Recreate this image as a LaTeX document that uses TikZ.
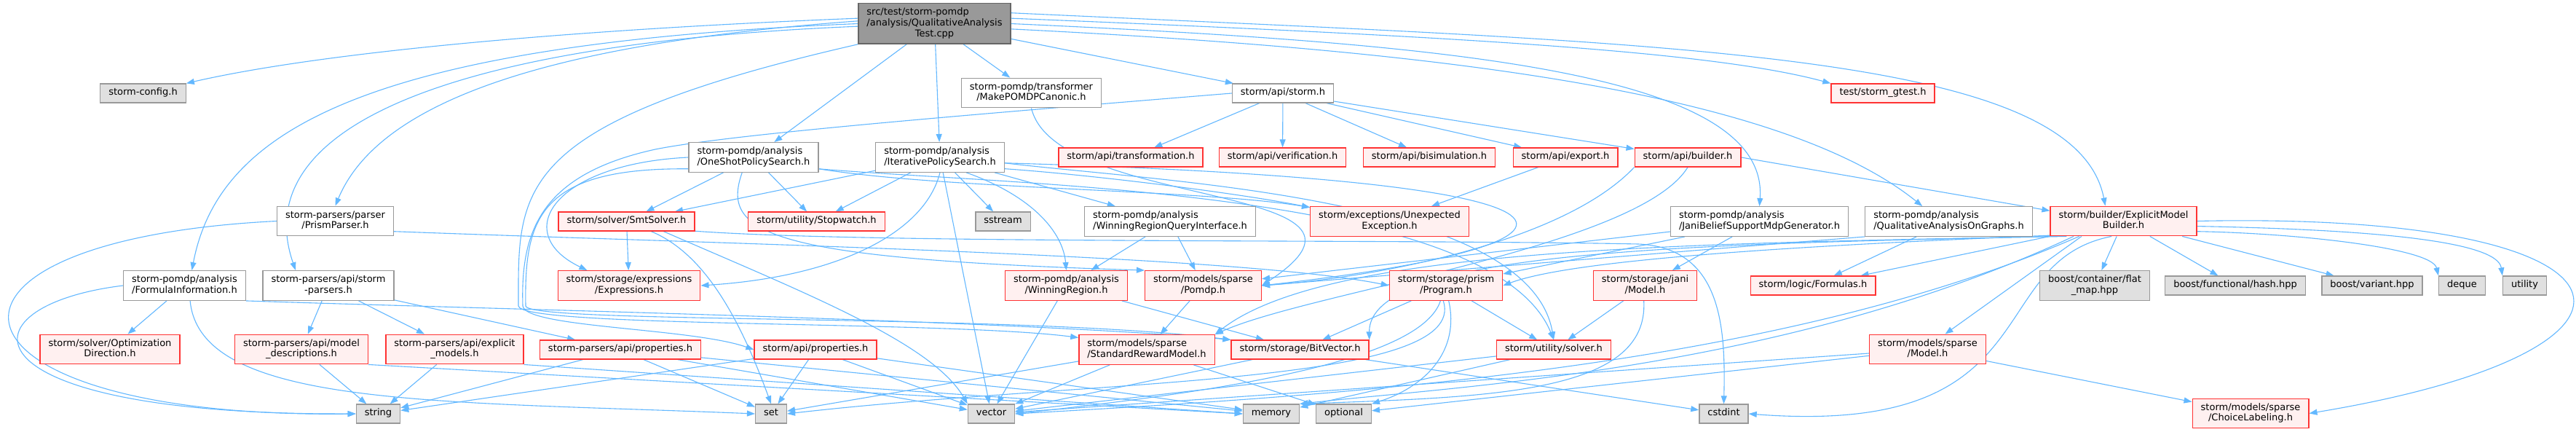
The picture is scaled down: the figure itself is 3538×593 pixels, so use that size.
\documentclass[tikz,border=0pt]{standalone}
\usepackage{fontspec}
\setmainfont{DejaVu Sans}
\usepackage{tikz}
\usetikzlibrary{arrows.meta}

\definecolor{edgeblue}{HTML}{63B8FF}
\definecolor{redfill}{HTML}{FFF0F0}
\definecolor{redline}{HTML}{FF3333}
\definecolor{sysfill}{HTML}{E0E0E0}
\definecolor{grayline}{HTML}{999999}
\definecolor{mainfill}{HTML}{999999}
\definecolor{mainline}{HTML}{666666}

\newcommand{\lblone}[1]{\begin{tabular}{@{}c@{}}#1\end{tabular}}
\newcommand{\lbltwo}[2]{\begin{tabular}{@{}l@{}}#1\\\multicolumn{1}{@{}c@{}}{#2}\end{tabular}}
\newcommand{\lblthree}[3]{\begin{tabular}{@{}l@{}}#1\\#2\\\multicolumn{1}{@{}c@{}}{#3}\end{tabular}}

\pgfdeclarelayer{paper}
\pgfdeclarelayer{edges}
\pgfsetlayers{paper,edges,main}

\begin{document}
\begin{tikzpicture}[x=1pt, y=-1pt,
    hdr/.style={rectangle, draw=grayline, fill=white, line width=1.3pt, inner xsep=11.5pt, inner ysep=5.6pt, font=\fontsize{13}{14.7}\selectfont},
    redhdr/.style={hdr, draw=redline, fill=redfill},
    syshdr/.style={hdr, fill=sysfill},
    mainhdr/.style={hdr, draw=mainline, fill=mainfill},
    inc/.style={draw=edgeblue, line width=1.1pt, -{Triangle[length=11pt, width=8pt]}}]

    \begin{pgfonlayer}{paper}
    \fill[white] (0,0) rectangle (3538,593);
    \end{pgfonlayer}
    \useasboundingbox (0,0) rectangle (3538,593);

    % Test file
    \node[mainhdr] (test) at (1283.5,32.5) {\lblthree{src/test/storm-pomdp}{/analysis/QualitativeAnalysis}{Test.cpp}};

    % First level
    \node[syshdr] (config) at (196.5,128) {\lblone{storm-config.h}};
    \node[hdr] (canonic) at (1416.5,127.5) {\lbltwo{storm-pomdp/transformer}{/MakePOMDPCanonic.h}};
    \node[hdr] (stormapi) at (1762,128) {\lblone{storm/api/storm.h}};
    \node[redhdr] (gtest) at (2586,128) {\lblone{test/storm\_gtest.h}};

    % Policy searches and api headers
    \node[hdr] (oneshot) at (1035,216) {\lbltwo{storm-pomdp/analysis}{/OneShotPolicySearch.h}};
    \node[hdr] (iterative) at (1291,216) {\lbltwo{storm-pomdp/analysis}{/IterativePolicySearch.h}};
    \node[redhdr] (transformation) at (1553,216) {\lblone{storm/api/transformation.h}};
    \node[redhdr] (verification) at (1761.5,216) {\lblone{storm/api/verification.h}};
    \node[redhdr] (bisimulation) at (1963,216) {\lblone{storm/api/bisimulation.h}};
    \node[redhdr] (export) at (2150,216) {\lblone{storm/api/export.h}};
    \node[redhdr] (builder) at (2318,216) {\lblone{storm/api/builder.h}};

    % Middle row
    \node[hdr] (prismparser) at (460.5,303.5) {\lbltwo{storm-parsers/parser}{/PrismParser.h}};
    \node[redhdr] (smtsolver) at (860.5,304) {\lblone{storm/solver/SmtSolver.h}};
    \node[redhdr] (stopwatch) at (1121.5,304) {\lblone{storm/utility/Stopwatch.h}};
    \node[syshdr] (sstream) at (1377.5,304) {\lblone{sstream}};
    \node[hdr] (queryif) at (1607,304) {\lbltwo{storm-pomdp/analysis}{/WinningRegionQueryInterface.h}};
    \node[redhdr] (unexpected) at (1908.5,304) {\lbltwo{storm/exceptions/Unexpected}{Exception.h}};
    \node[hdr] (janibelief) at (2416.5,304) {\lbltwo{storm-pomdp/analysis}{/JaniBeliefSupportMdpGenerator.h}};
    \node[hdr] (onGraphs) at (2676.5,304) {\lbltwo{storm-pomdp/analysis}{/QualitativeAnalysisOnGraphs.h}};
    \node[redhdr] (modelbuilder) at (2916.5,303.5) {\lbltwo{storm/builder/ExplicitModel}{Builder.h}};

    \node[hdr] (formulainfo) at (253.5,392) {\lbltwo{storm-pomdp/analysis}{/FormulaInformation.h}};
    \node[hdr] (stormparsers) at (451,392) {\lbltwo{storm-parsers/api/storm}{-parsers.h}};
    \node[redhdr] (expressions) at (864,392) {\lbltwo{storm/storage/expressions}{/Expressions.h}};
    \node[redhdr] (winregion) at (1464.5,392) {\lbltwo{storm-pomdp/analysis}{/WinningRegion.h}};
    \node[redhdr] (pomdp) at (1652.5,392) {\lbltwo{storm/models/sparse}{/Pomdp.h}};
    \node[redhdr] (program) at (1986,392) {\lbltwo{storm/storage/prism}{/Program.h}};
    \node[redhdr] (janimodel) at (2259.5,392) {\lbltwo{storm/storage/jani}{/Model.h}};
    \node[redhdr] (formulas) at (2490,392) {\lblone{storm/logic/Formulas.h}};
    \node[syshdr] (flatmap) at (2877,392) {\lbltwo{boost/container/flat}{\_map.hpp}};
    \node[syshdr] (hash) at (3070,392) {\lblone{boost/functional/hash.hpp}};
    \node[syshdr] (variant) at (3258,392) {\lblone{boost/variant.hpp}};
    \node[syshdr] (deque) at (3381.5,392) {\lblone{deque}};
    \node[syshdr] (utility) at (3467.5,392) {\lblone{utility}};

    % Lower row
    \node[redhdr] (optdir) at (151,479.5) {\lbltwo{storm/solver/Optimization}{Direction.h}};
    \node[redhdr] (modeldesc) at (414,479.5) {\lbltwo{storm-parsers/api/model}{\_descriptions.h}};
    \node[redhdr] (explicitmodels) at (624.5,479.5) {\lbltwo{storm-parsers/api/explicit}{\_models.h}};
    \node[redhdr] (parsprops) at (852,480) {\lblone{storm-parsers/api/properties.h}};
    \node[redhdr] (apiprops) at (1120,480) {\lblone{storm/api/properties.h}};
    \node[redhdr] (rewardmodel) at (1575,480) {\lbltwo{storm/models/sparse}{/StandardRewardModel.h}};
    \node[redhdr] (bitvector) at (1785.5,480) {\lblone{storm/storage/BitVector.h}};
    \node[redhdr] (solver) at (2134,480) {\lblone{storm/utility/solver.h}};
    \node[redhdr] (sparsemodel) at (2647.5,479.5) {\lbltwo{storm/models/sparse}{/Model.h}};

    % System headers
    \node[syshdr] (string) at (519.5,568) {\lblone{string}};
    \node[syshdr] (set) at (1059,568) {\lblone{set}};
    \node[syshdr] (vector) at (1361.5,568) {\lblone{vector}};
    \node[syshdr] (memory) at (1746,568) {\lblone{memory}};
    \node[syshdr] (optional) at (1845.5,568) {\lblone{optional}};
    \node[syshdr] (cstdint) at (2367.5,568) {\lblone{cstdint}};
    \node[redhdr] (choicelabeling) at (3091,567.5) {\lbltwo{storm/models/sparse}{/ChoiceLabeling.h}};

    \begin{pgfonlayer}{edges}
    % Includes of the test file
    \draw[inc] (test.176) .. controls (800,40) and (450,70) .. (config.north east);
    \draw[inc] (test.180) .. controls (500,60) and (300,180) .. ([xshift=10pt]formulainfo.north);
    \draw[inc] (test.182) .. controls (600,60) and (340,180) .. ([xshift=-45pt]stormparsers.north);
    \draw[inc] (test.178) .. controls (750,60) and (520,140) .. (prismparser.north);
    \draw[inc] (test) -- (oneshot);
    \draw[inc] (test) -- (iterative);
    \draw[inc] (test) -- (canonic);
    \draw[inc] (test) -- (stormapi);
    \draw[inc] (test.south west) .. controls (700,170) and (712,260) .. (712,420)
        .. controls (715,450) and (1300,440) .. (rewardmodel.170);
    \draw[inc] (test.4) .. controls (2000,50) and (2350,70) .. (gtest.north west);
    \draw[inc] (test.0) .. controls (2000,60) and (2430,100) .. (janibelief.north);
    \draw[inc] (test.-4) .. controls (2000,70) and (2450,130) .. (onGraphs.150);
    \draw[inc] (test.8) .. controls (2300,60) and (2850,70) .. (modelbuilder.140);

    % Policy searches
    \draw[inc] (oneshot) -- (smtsolver);
    \draw[inc] (oneshot) -- (stopwatch);
    \draw[inc] (oneshot.west) .. controls (760,225) and (700,320) .. (expressions.160);
    \draw[inc] (oneshot.233) .. controls (990,320) and (1050,355) .. (pomdp.north west);
    \draw[inc] (oneshot.-10) .. controls (1300,260) and (1650,260) .. (unexpected.170);
    \draw[inc] (oneshot.-10) .. controls (1400,255) and (2050,260) .. (solver.north);
    \draw[inc] (oneshot.190) .. controls (740,230) and (720,300) .. (722,420)
        .. controls (725,445) and (1400,430) .. (bitvector.north west);

    \draw[inc] (iterative) -- (sstream);
    \draw[inc] (iterative) -- (vector);
    \draw[inc] (iterative) -- (queryif);
    \draw[inc] (iterative) -- (smtsolver);
    \draw[inc] (iterative) -- (stopwatch);
    \draw[inc] (iterative.-30) .. controls (1420,270) and (1460,320) .. (winregion.north);
    \draw[inc] (iterative.south) .. controls (1270,320) and (1150,380) .. (expressions.east);
    \draw[inc] (iterative.-10) .. controls (1500,240) and (1700,265) .. (unexpected.170);
    \draw[inc] (iterative.-5) .. controls (2300,250) and (2200,340) .. (pomdp.east);
    \draw[inc] (iterative.-5) .. controls (1600,250) and (2100,270) .. (solver.north);

    \draw[inc] (queryif) -- (winregion);
    \draw[inc] (queryif) -- (pomdp);
    \draw[inc] (winregion) -- (vector);
    \draw[inc] (winregion) -- (bitvector);
    \draw[inc] (pomdp) -- (rewardmodel);
    \draw[inc] (rewardmodel) -- (vector);
    \draw[inc] (rewardmodel) -- (set);
    \draw[inc] (rewardmodel) -- (optional);
    \draw[inc] (bitvector) -- (vector);
    \draw[inc] (bitvector) -- (cstdint);

    % Prism program and jani model
    \draw[inc] (program) -- (bitvector);
    \draw[inc] (program) -- (solver);
    \draw[inc] (program.-110) .. controls (1950,500) and (1650,540) .. (vector.east);
    \draw[inc] (program.-100) .. controls (2020,530) and (1500,520) .. (set.east);
    \draw[inc] (program.-80) .. controls (2005,480) and (1960,530) .. (optional.north east);
    \draw[inc] (janimodel) -- (solver);
    \draw[inc] (janimodel.-95) .. controls (2265,540) and (2050,545) .. (memory.north east);
    \draw[inc] (solver) -- (memory);
    \draw[inc] (solver) -- (vector);

    % Smt solver
    \draw[inc] (smtsolver) -- (expressions);
    \draw[inc] (smtsolver.-22) .. controls (960,345) and (1010,420) .. (set.north);
    \draw[inc] (smtsolver.-15) .. controls (1100,400) and (1280,470) .. (vector.north west);
    \draw[inc] (smtsolver.-8) .. controls (1200,335) and (1900,328) .. (2250,335)
        .. controls (2365,340) and (2370,450) .. (cstdint.north);

    % Parsers
    \draw[inc] (formulainfo) -- (optdir);
    \draw[inc] (formulainfo.west) .. controls (-60,420) and (-60,570) .. (string.west);
    \draw[inc] (formulainfo.-70) .. controls (275,560) and (600,550) .. (set.west);
    \draw[inc] (formulainfo.south east) .. controls (700,425) and (1400,440) .. (bitvector.north west);
    \draw[inc] (prismparser.west) .. controls (-150,330) and (-100,575) .. (string.west);
    \draw[inc] (prismparser.-10) .. controls (1000,335) and (1700,350) .. (program.west);
    \draw[inc] (stormparsers) -- (modeldesc);
    \draw[inc] (stormparsers) -- (explicitmodels);
    \draw[inc] (stormparsers) -- (parsprops);
    \draw[inc] (modeldesc) -- (string);
    \draw[inc] (modeldesc.south east) -- (memory.west);
    \draw[inc] (explicitmodels) -- (string);
    \draw[inc] (explicitmodels.south east) -- (memory.west);
    \draw[inc] (parsprops) -- (string);
    \draw[inc] (parsprops) -- (set);
    \draw[inc] (parsprops) -- (vector);
    \draw[inc] (parsprops) -- (memory);
    \draw[inc] (apiprops) -- (string);
    \draw[inc] (apiprops) -- (set);
    \draw[inc] (apiprops) -- (vector);
    \draw[inc] (apiprops) -- (memory);

    % Api headers
    \draw[inc] (canonic.south) .. controls (1450,290) and (1950,250) .. (pomdp.east);
    \draw[inc] (stormapi) -- (transformation);
    \draw[inc] (stormapi) -- (verification);
    \draw[inc] (stormapi) -- (bisimulation);
    \draw[inc] (stormapi) -- (export);
    \draw[inc] (stormapi) -- (builder);
    \draw[inc] (stormapi.west) .. controls (1300,160) and (1000,185) .. (900,205)
        .. controls (740,240) and (715,320) .. (718,420)
        .. controls (722,450) and (950,450) .. (apiprops.west);
    \draw[inc] (export) -- (unexpected);
    \draw[inc] (builder.east) -- (modelbuilder.172);
    \draw[inc] (builder.south west) .. controls (2150,330) and (1900,380) .. (pomdp.east);
    \draw[inc] (builder.south) .. controls (2250,340) and (1800,400) .. (rewardmodel.north east);

    % Pomdp analyses
    \draw[inc] (janibelief) -- (janimodel);
    \draw[inc] (janibelief) -- (program);
    \draw[inc] (janibelief) -- (pomdp);
    \draw[inc] (onGraphs) -- (formulas);
    \draw[inc] (onGraphs.south west) -- (pomdp.east);

    % Model builder
    \draw[inc] (modelbuilder) -- (formulas);
    \draw[inc] (modelbuilder) -- (flatmap);
    \draw[inc] (modelbuilder) -- (hash);
    \draw[inc] (modelbuilder) -- (variant);
    \draw[inc] (modelbuilder.-8) .. controls (3150,320) and (3340,340) .. (deque.north west);
    \draw[inc] (modelbuilder.-4) .. controls (3250,315) and (3430,330) .. (utility.north west);
    \draw[inc] (modelbuilder.east) .. controls (3650,290) and (3700,480) .. (choicelabeling.east);
    \draw[inc] (modelbuilder.200) -- ([xshift=24pt]sparsemodel.north);
    \draw[inc] (modelbuilder.-128) .. controls (2720,360) and (2820,600) .. (cstdint.east);
    \draw[inc] (modelbuilder.191) .. controls (2400,340) and (2150,360) .. (program.east);
    \draw[inc] (modelbuilder.193) .. controls (2300,335) and (1820,340) .. (rewardmodel.north east);
    \draw[inc] (modelbuilder.195) .. controls (2300,335) and (1880,345) .. (bitvector.north east);
    \draw[inc] (modelbuilder.197) .. controls (2450,510) and (2000,530) .. (memory.north east);
    \draw[inc] (modelbuilder.199) .. controls (2450,500) and (1900,540) .. (vector.east);
    \draw[inc] (sparsemodel) -- (choicelabeling);
    \draw[inc] (sparsemodel) -- (optional);
    \draw[inc] (sparsemodel) -- (vector);
    \end{pgfonlayer}
\end{tikzpicture}
\end{document}
